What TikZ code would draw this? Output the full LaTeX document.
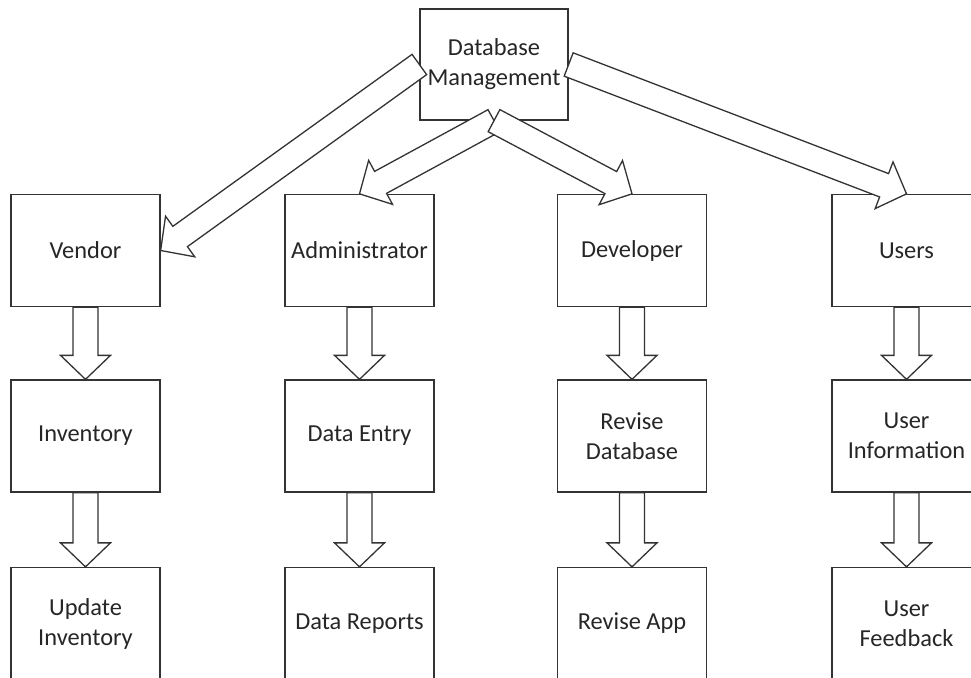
\documentclass[tikz,border=0pt]{standalone}
\usepackage{fontspec}
\setmainfont{Carlito}
\usetikzlibrary{calc}

% Block ("fat") arrow from #1 to #2: shaft half-width, head half-width, head length
\newcommand\fatarrow[2]{%
  \path (#1) coordinate (fa-s) (#2) coordinate (fa-t);
  \coordinate (fa-h) at ($(fa-t)!24pt!(fa-s)$);
  \draw[arrowbody]
    ($(fa-s)!12.5pt!90:(fa-t)$) -- ($(fa-h)!12.5pt!90:(fa-t)$) --
    ($(fa-h)!25pt!90:(fa-t)$) -- (fa-t) --
    ($(fa-h)!25pt!-90:(fa-t)$) -- ($(fa-h)!12.5pt!-90:(fa-t)$) --
    ($(fa-s)!12.5pt!-90:(fa-t)$) -- cycle;}

\tikzset{
  box/.style={draw=black!80, line width=1.3pt, fill=white, minimum width=149pt,
    minimum height=112pt, inner sep=0pt, align=center, text=black!85,
    font=\fontsize{24.4}{30}\selectfont},
  arrowbody/.style={draw=black!80, line width=1.3pt, fill=white, line join=miter}
}

\begin{document}
\begin{tikzpicture}[x=1pt,y=-1pt]
  \clip (0,0) rectangle (971,677);
  \fill[white] (0,0) rectangle (971,677);

  % top node
  \node[box, minimum width=148pt, minimum height=111pt] (db) at (494,64.5) {Database\\Management};

  % first row
  \node[box] (vendor) at (85.5,250.5) {Vendor};
  \node[box] (admin)  at (359.5,250.5) {Administrator};
  \node[box] (dev)    at (632,250.5) {Developer};
  \node[box] (users)  at (906.5,250.5) {Users};

  % second row
  \node[box] (inv)    at (85.5,436) {Inventory};
  \node[box] (entry)  at (359.5,436) {Data Entry};
  \node[box] (revdb)  at (632,436) {Revise\\Database};
  \node[box] (uinfo)  at (906.5,436) {User\\Information};

  % third row
  \node[box] (updinv) at (85.5,623.5) {Update\\Inventory};
  \node[box] (report) at (359.5,623.5) {Data Reports};
  \node[box] (revapp) at (632,623.5) {Revise App};
  \node[box] (ufeed)  at (906.5,623.5) {User\\Feedback};

  % arrows from the top node
  \fatarrow{db.west}{vendor.east}
  \fatarrow{db.east}{users.north}
  \fatarrow{db.south}{admin.north}
  \fatarrow{db.south}{dev.north}

  % arrows down each column
  \fatarrow{vendor.south}{inv.north}
  \fatarrow{inv.south}{updinv.north}
  \fatarrow{admin.south}{entry.north}
  \fatarrow{entry.south}{report.north}
  \fatarrow{dev.south}{revdb.north}
  \fatarrow{revdb.south}{revapp.north}
  \fatarrow{users.south}{uinfo.north}
  \fatarrow{uinfo.south}{ufeed.north}
\end{tikzpicture}
\end{document}
